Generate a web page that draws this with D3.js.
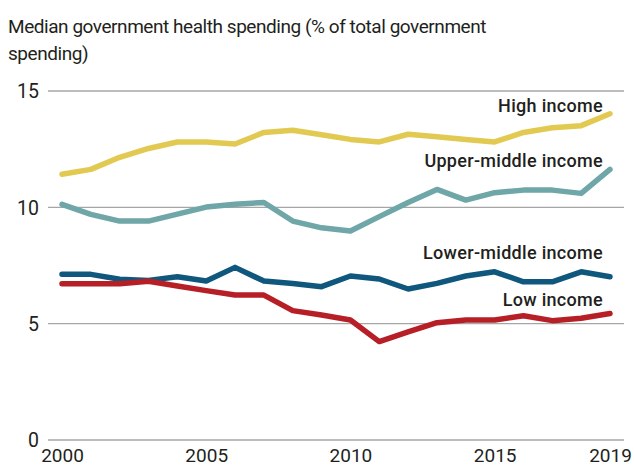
<!DOCTYPE html>
<html>
<head>
<meta charset="utf-8">
<script src="https://cdn.jsdelivr.net/npm/d3@7"></script>
<style>
  html, body { margin: 0; padding: 0; background: #ffffff; }
  svg { display: block; }
  text { font-family: Roboto, "Noto Sans", sans-serif; fill: #231f20; }
</style>
</head>
<body>
<svg id="chart" width="634" height="467"></svg>
<script>
// Years on the horizontal axis
const years = d3.range(2000, 2020);

// Median government health spending, % of total government spending
const highIncome = [11.42, 11.63, 12.15, 12.53, 12.81, 12.81, 12.72, 13.22, 13.31, 13.12,
                    12.92, 12.81, 13.14, 13.03, 12.92, 12.81, 13.22, 13.42, 13.51, 14.02];
const upperMiddleIncome = [10.13, 9.70, 9.41, 9.41, 9.71, 10.01, 10.13, 10.21, 9.41, 9.12,
                           8.98, 9.60, 10.21, 10.77, 10.31, 10.63, 10.74, 10.74, 10.60, 11.63];
const lowerMiddleIncome = [7.12, 7.12, 6.91, 6.86, 7.02, 6.83, 7.42, 6.83, 6.73, 6.59,
                           7.05, 6.92, 6.49, 6.73, 7.05, 7.23, 6.80, 6.80, 7.23, 7.02];
const lowIncome = [6.72, 6.72, 6.72, 6.82, 6.62, 6.42, 6.23, 6.23, 5.56, 5.37,
                   5.16, 4.23, 4.65, 5.04, 5.16, 5.16, 5.34, 5.13, 5.23, 5.44];

const seriesNames = ["High income", "Upper-middle income", "Lower-middle income", "Low income"];
const seriesValues = [highIncome, upperMiddleIncome, lowerMiddleIncome, lowIncome];
const seriesColors = ["#e2ca52", "#6fa6a7", "#10577d", "#b71f27"];

const yTicks = [0, 5, 10, 15];
const xTicks = [2000, 2005, 2010, 2015, 2019];

const svg = d3.select("#chart");

const x = d3.scaleLinear().domain([2000, 2019]).range([62, 610]);
const y = d3.scaleLinear().domain([0, 15]).range([440, 91]);

// Title
const title = svg.append("text")
  .attr("font-size", 19)
  .attr("letter-spacing", "-0.45px");
title.append("tspan").attr("x", 8).attr("y", 33)
  .text("Median government health spending (% of total government");
title.append("tspan").attr("x", 8).attr("y", 60)
  .text("spending)");

// Horizontal gridlines
svg.append("g").selectAll("line")
  .data(yTicks)
  .join("line")
  .attr("x1", 48)
  .attr("x2", 624)
  .attr("y1", d => y(d))
  .attr("y2", d => y(d))
  .attr("stroke", "#a6a6a6")
  .attr("stroke-width", 1.3);

// Value labels at the left of each gridline
const yAxis = d3.axisLeft(y).tickValues(yTicks).tickSize(0).tickPadding(0);
const yG = svg.append("g").attr("transform", "translate(39,0)").call(yAxis);
yG.select(".domain").remove();
yG.selectAll("text")
  .attr("font-size", 19.5)
  .attr("font-family", "Roboto, sans-serif")
  .attr("fill", "#231f20")
  .attr("dy", "0.35em");

// Year labels along the bottom
const xAxis = d3.axisBottom(x).tickValues(xTicks).tickFormat(d3.format("d")).tickSize(0).tickPadding(0);
const xG = svg.append("g").attr("transform", "translate(0,462)").call(xAxis);
xG.select(".domain").remove();
xG.selectAll("text")
  .attr("font-size", 19)
  .attr("font-family", "Roboto, sans-serif")
  .attr("fill", "#231f20")
  .attr("dy", "0");

// Series lines
const line = d3.line()
  .x((d, i) => x(years[i]))
  .y(d => y(d));

svg.append("g").selectAll("path")
  .data(seriesValues)
  .join("path")
  .attr("d", d => line(d))
  .attr("fill", "none")
  .attr("stroke", (d, i) => seriesColors[i])
  .attr("stroke-width", 5.5)
  .attr("stroke-linecap", "round")
  .attr("stroke-linejoin", "round");

// Series labels, right-aligned above each line's end
const labelBaselines = [112, 167, 259, 306];
svg.append("g").selectAll("text")
  .data(seriesNames)
  .join("text")
  .attr("x", 603)
  .attr("y", (d, i) => labelBaselines[i])
  .attr("text-anchor", "end")
  .attr("font-size", 18)
  .attr("font-weight", 500)
  .attr("letter-spacing", "0.3px")
  .text(d => d);
</script>
</body>
</html>
